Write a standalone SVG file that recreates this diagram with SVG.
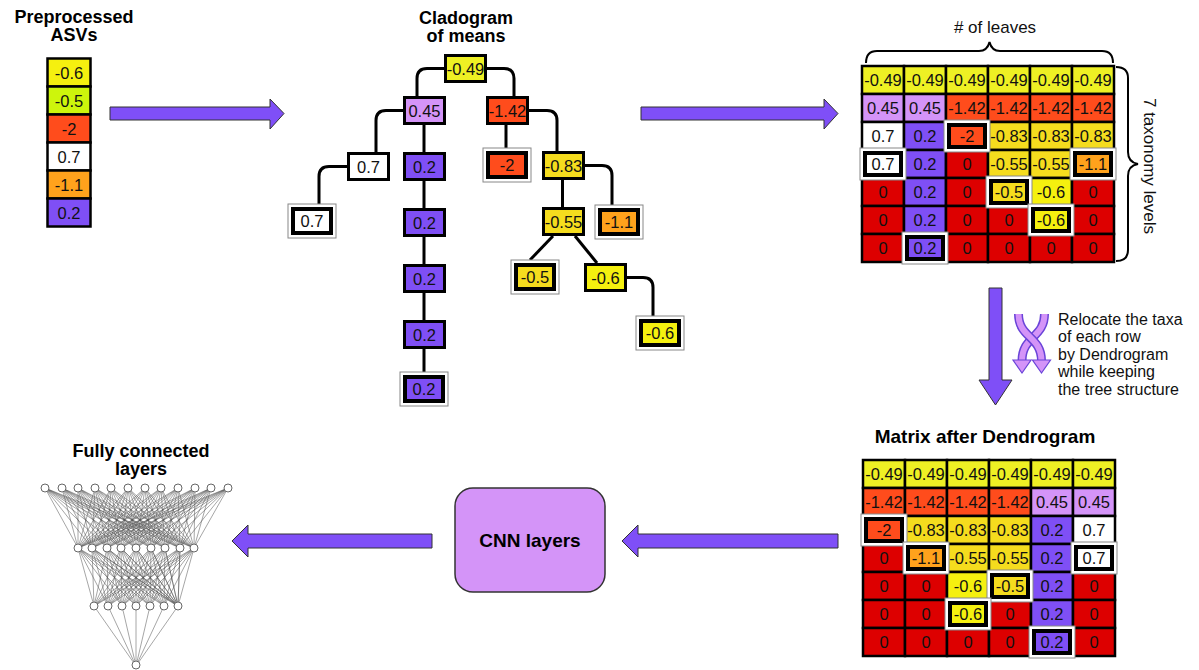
<svg xmlns="http://www.w3.org/2000/svg" width="1199" height="670" viewBox="0 0 1199 670">
<defs>
<style>
text{font-family:"Liberation Sans",Arial,Helvetica,sans-serif;fill:#111}
.v{font-size:16.5px;text-anchor:middle}
.h{font-size:19px;font-weight:bold;text-anchor:middle;fill:#000}
.h2{font-size:18px;font-weight:bold;text-anchor:middle;fill:#000}
.s{font-size:17px}
.t{font-size:16px}
.n{stroke:#000;stroke-width:3}
.c{stroke:#000;stroke-width:2.5}
.lo{fill:#fff;stroke:#888;stroke-width:1}
.li{stroke:#000;stroke-width:4}
.y{fill:#eef024}
.g{fill:#f5dc1e}
.yl{fill:#f5f00f}
.lm{fill:#cdf50c}
.o{fill:#ff4c1c}
.r{fill:#dd0000}
.p{fill:#7f4ff5}
.l{fill:#d494f8}
.a{fill:#ffa21c}
.w{fill:#fff}
.arrow{fill:#7f4ff7;stroke:#333;stroke-width:1}
.con{fill:none;stroke:#000;stroke-width:3}
.br{fill:none;stroke:#000;stroke-width:2}
.nn{fill:none;stroke:#555;stroke-width:0.7;stroke-opacity:0.75;stroke-linejoin:round}
.nd{fill:#fff;stroke:#666;stroke-width:1}
</style>
</defs>
<rect width="1199" height="670" fill="#fff"/>

<!-- Preprocessed ASVs -->
<g id="asvs">
<text class="h2" x="74" y="23">Preprocessed</text>
<text class="h2" x="74" y="41">ASVs</text>
<rect class="c yl" x="47.5" y="58.5" width="43" height="28"/>
<rect class="c lm" x="47.5" y="86.5" width="43" height="28"/>
<rect class="c o" x="47.5" y="114.5" width="43" height="28"/>
<rect class="c w" x="47.5" y="142.5" width="43" height="28"/>
<rect class="c a" x="47.5" y="170.5" width="43" height="28"/>
<rect class="c p" x="47.5" y="198.5" width="43" height="28"/>
<text class="v" x="69" y="78.5">-0.6</text>
<text class="v" x="69" y="106.5">-0.5</text>
<text class="v" x="69" y="134.5">-2</text>
<text class="v" x="69" y="162.5">0.7</text>
<text class="v" x="69" y="190.5">-1.1</text>
<text class="v" x="69" y="218.5">0.2</text>
</g>

<!-- Arrows between panels -->
<g id="arrows">
<polygon class="arrow" points="110,107 270,107 270,99 284,113.5 270,129 270,120 110,120"/>
<polygon class="arrow" points="641,107 824,107 824,99 838,113.5 824,129 824,120 641,120"/>
<polygon class="arrow" points="989,288 1002,288 1002,380 1012,380 995.5,405 979,380 989,380"/>
<polygon class="arrow" points="838,534 638,534 638,525 622,541 638,557 638,548 838,548"/>
<polygon class="arrow" points="432,534 248,534 248,525 232,541 248,557 248,548 432,548"/>
</g>

<!-- Cladogram -->
<g id="cladogram-title">
<text class="h2" x="466" y="24">Cladogram</text>
<text class="h2" x="466" y="42">of means</text>
</g>
<g id="connectors" class="con">
<path d="M444 68.5H427Q417 68.5 417 78.5V96"/>
<path d="M487 68.5H504Q514 68.5 514 78.5V96"/>
<path d="M403 110.5H386Q376 110.5 376 120.5V152"/>
<path d="M424 125V152"/>
<path d="M347 166.5H329Q319 166.5 319 176.5V204"/>
<path d="M424 181V208M424 237V264M424 293V320M424 349V372"/>
<path d="M506 125V148"/>
<path d="M529 110.5H547Q557 110.5 557 120.5V151"/>
<path d="M562.5 180V207"/>
<path d="M585 165.5H602Q612 165.5 612 175.5V205"/>
<path d="M553 236L530 260"/>
<path d="M575 236L597 263"/>
<path d="M627 277.5H643Q653 277.5 653 287.5V316"/>
</g>
<g id="n-049"><rect class="n y" x="445.5" y="55.5" width="40" height="26"/><text class="v" x="465.5" y="74.5">-0.49</text></g>
<g id="n-045"><rect class="n l" x="404.5" y="97.5" width="40" height="26"/><text class="v" x="424.5" y="116.5">0.45</text></g>
<g id="n-142"><rect class="n o" x="487.5" y="97.5" width="40" height="26"/><text class="v" x="507.5" y="116.5">-1.42</text></g>
<g id="n-07"><rect class="n w" x="348.5" y="153.5" width="40" height="26"/><text class="v" x="368.5" y="172.5">0.7</text></g>
<g id="n-02a"><rect class="n p" x="404.5" y="153.5" width="40" height="26"/><text class="v" x="424.5" y="172.5">0.2</text></g>
<g id="n-02b"><rect class="n p" x="404.5" y="209.5" width="40" height="26"/><text class="v" x="424.5" y="228.5">0.2</text></g>
<g id="n-02c"><rect class="n p" x="404.5" y="265.5" width="40" height="26"/><text class="v" x="424.5" y="284.5">0.2</text></g>
<g id="n-02d"><rect class="n p" x="404.5" y="321.5" width="40" height="26"/><text class="v" x="424.5" y="340.5">0.2</text></g>
<g id="n-083"><rect class="n g" x="543.5" y="152.5" width="40" height="26"/><text class="v" x="563.5" y="171.5">-0.83</text></g>
<g id="n-055"><rect class="n g" x="543.5" y="208.5" width="40" height="26"/><text class="v" x="563.5" y="227.5">-0.55</text></g>
<g id="n-06"><rect class="n yl" x="585.5" y="264.5" width="40" height="26"/><text class="v" x="605.5" y="283.5">-0.6</text></g>
<g id="leaf-07"><rect class="lo" x="288" y="204" width="48" height="34"/><rect class="li w" x="293" y="209" width="38" height="24"/><text class="v" x="312" y="227">0.7</text></g>
<g id="leaf-02"><rect class="lo" x="400" y="372" width="48" height="34"/><rect class="li p" x="405" y="377" width="38" height="24"/><text class="v" x="424" y="395">0.2</text></g>
<g id="leaf-2"><rect class="lo" x="483" y="148" width="48" height="34"/><rect class="li o" x="488" y="153" width="38" height="24"/><text class="v" x="507" y="171">-2</text></g>
<g id="leaf-11"><rect class="lo" x="595" y="205" width="48" height="34"/><rect class="li a" x="600" y="210" width="38" height="24"/><text class="v" x="619" y="228">-1.1</text></g>
<g id="leaf-05"><rect class="lo" x="511" y="260" width="48" height="34"/><rect class="li g" x="516" y="265" width="38" height="24"/><text class="v" x="535" y="283">-0.5</text></g>
<g id="leaf-06"><rect class="lo" x="636" y="316" width="48" height="34"/><rect class="li yl" x="641" y="321" width="38" height="24"/><text class="v" x="660" y="339">-0.6</text></g>

<!-- Top matrix -->
<g id="matrix-top">
<text class="v s" x="995" y="33">&#35; of leaves</text>
<path class="br" d="M866 63C866 55 869 51 877 51H979C985 51 988 48 989.5 42C991 48 994 51 1000 51H1102C1110 51 1113 55 1113 63"/>
<path class="br" d="M1116 67C1124 67 1128 70 1128 78V152C1128 160 1132 163 1138 164C1132 165 1128 168 1128 176V250C1128 258 1124 261 1116 261"/>
<text class="v s" transform="translate(1144,166) rotate(90)" x="0" y="0">7 taxonomy levels</text>
<g class="c">
<rect class="y" x="862" y="66" width="42" height="28"/><rect class="y" x="904" y="66" width="42" height="28"/><rect class="y" x="946" y="66" width="42" height="28"/><rect class="y" x="988" y="66" width="42" height="28"/><rect class="y" x="1030" y="66" width="42" height="28"/><rect class="y" x="1072" y="66" width="42" height="28"/>
<rect class="l" x="862" y="94" width="42" height="28"/><rect class="l" x="904" y="94" width="42" height="28"/><rect class="o" x="946" y="94" width="42" height="28"/><rect class="o" x="988" y="94" width="42" height="28"/><rect class="o" x="1030" y="94" width="42" height="28"/><rect class="o" x="1072" y="94" width="42" height="28"/>
<rect class="w" x="862" y="122" width="42" height="28"/><rect class="p" x="904" y="122" width="42" height="28"/><rect class="o" x="946" y="122" width="42" height="28"/><rect class="g" x="988" y="122" width="42" height="28"/><rect class="g" x="1030" y="122" width="42" height="28"/><rect class="g" x="1072" y="122" width="42" height="28"/>
<rect class="w" x="862" y="150" width="42" height="28"/><rect class="p" x="904" y="150" width="42" height="28"/><rect class="r" x="946" y="150" width="42" height="28"/><rect class="g" x="988" y="150" width="42" height="28"/><rect class="g" x="1030" y="150" width="42" height="28"/><rect class="a" x="1072" y="150" width="42" height="28"/>
<rect class="r" x="862" y="178" width="42" height="28"/><rect class="p" x="904" y="178" width="42" height="28"/><rect class="r" x="946" y="178" width="42" height="28"/><rect class="g" x="988" y="178" width="42" height="28"/><rect class="yl" x="1030" y="178" width="42" height="28"/><rect class="r" x="1072" y="178" width="42" height="28"/>
<rect class="r" x="862" y="206" width="42" height="28"/><rect class="p" x="904" y="206" width="42" height="28"/><rect class="r" x="946" y="206" width="42" height="28"/><rect class="r" x="988" y="206" width="42" height="28"/><rect class="yl" x="1030" y="206" width="42" height="28"/><rect class="r" x="1072" y="206" width="42" height="28"/>
<rect class="r" x="862" y="234" width="42" height="28"/><rect class="p" x="904" y="234" width="42" height="28"/><rect class="r" x="946" y="234" width="42" height="28"/><rect class="r" x="988" y="234" width="42" height="28"/><rect class="r" x="1030" y="234" width="42" height="28"/><rect class="r" x="1072" y="234" width="42" height="28"/>
</g>
<g class="v">
<text x="883" y="86">-0.49</text><text x="925" y="86">-0.49</text><text x="967" y="86">-0.49</text><text x="1009" y="86">-0.49</text><text x="1051" y="86">-0.49</text><text x="1093" y="86">-0.49</text>
<text x="883" y="114">0.45</text><text x="925" y="114">0.45</text><text x="967" y="114">-1.42</text><text x="1009" y="114">-1.42</text><text x="1051" y="114">-1.42</text><text x="1093" y="114">-1.42</text>
<text x="883" y="142">0.7</text><text x="925" y="142">0.2</text><text x="1009" y="142">-0.83</text><text x="1051" y="142">-0.83</text><text x="1093" y="142">-0.83</text>
<text x="925" y="170">0.2</text><text x="967" y="170">0</text><text x="1009" y="170">-0.55</text><text x="1051" y="170">-0.55</text>
<text x="883" y="198">0</text><text x="925" y="198">0.2</text><text x="967" y="198">0</text><text x="1051" y="198">-0.6</text><text x="1093" y="198">0</text>
<text x="883" y="226">0</text><text x="925" y="226">0.2</text><text x="967" y="226">0</text><text x="1009" y="226">0</text><text x="1093" y="226">0</text>
<text x="883" y="254">0</text><text x="967" y="254">0</text><text x="1009" y="254">0</text><text x="1051" y="254">0</text><text x="1093" y="254">0</text>
</g>
<g id="hl-top">
<rect class="lo" x="944" y="120" width="46" height="32"/><rect class="li o" x="949" y="125" width="36" height="22"/><text class="v" x="967" y="142">-2</text>
<rect class="lo" x="860" y="148" width="46" height="32"/><rect class="li w" x="865" y="153" width="36" height="22"/><text class="v" x="883" y="170">0.7</text>
<rect class="lo" x="1070" y="148" width="46" height="32"/><rect class="li a" x="1075" y="153" width="36" height="22"/><text class="v" x="1093" y="170">-1.1</text>
<rect class="lo" x="986" y="176" width="46" height="32"/><rect class="li g" x="991" y="181" width="36" height="22"/><text class="v" x="1009" y="198">-0.5</text>
<rect class="lo" x="1028" y="204" width="46" height="32"/><rect class="li yl" x="1033" y="209" width="36" height="22"/><text class="v" x="1051" y="226">-0.6</text>
<rect class="lo" x="902" y="232" width="46" height="32"/><rect class="li p" x="907" y="237" width="36" height="22"/><text class="v" x="925" y="254">0.2</text>
</g>
</g>

<!-- Relocate annotation -->
<g id="relocate">
<path d="M1044.5 314C1044.5 338 1022 336 1022 361" fill="none" stroke="#6a44d8" stroke-width="9"/>
<path d="M1044.5 314C1044.5 338 1022 336 1022 361" fill="none" stroke="#d494f8" stroke-width="6"/>
<polygon points="1013,360 1031,360 1022,373" fill="#d494f8" stroke="#6a44d8" stroke-width="1.2"/>
<path d="M1018.5 314C1018.5 338 1041.5 336 1041.5 361" fill="none" stroke="#6a44d8" stroke-width="9"/>
<path d="M1018.5 314C1018.5 338 1041.5 336 1041.5 361" fill="none" stroke="#d494f8" stroke-width="6"/>
<polygon points="1032.5,360 1050.5,360 1041.5,373" fill="#d494f8" stroke="#6a44d8" stroke-width="1.2"/>
<g class="t">
<text x="1058" y="324.5">Relocate the taxa</text>
<text x="1058" y="342">of each row</text>
<text x="1058" y="359.5">by Dendrogram</text>
<text x="1058" y="377">while keeping</text>
<text x="1058" y="394.5">the tree structure</text>
</g>
</g>

<!-- Bottom matrix -->
<g id="matrix-bottom">
<text class="h" x="985" y="443">Matrix after Dendrogram</text>
<g class="c">
<rect class="y" x="863" y="460" width="42" height="28"/><rect class="y" x="905" y="460" width="42" height="28"/><rect class="y" x="947" y="460" width="42" height="28"/><rect class="y" x="989" y="460" width="42" height="28"/><rect class="y" x="1031" y="460" width="42" height="28"/><rect class="y" x="1073" y="460" width="42" height="28"/>
<rect class="o" x="863" y="488" width="42" height="28"/><rect class="o" x="905" y="488" width="42" height="28"/><rect class="o" x="947" y="488" width="42" height="28"/><rect class="o" x="989" y="488" width="42" height="28"/><rect class="l" x="1031" y="488" width="42" height="28"/><rect class="l" x="1073" y="488" width="42" height="28"/>
<rect class="o" x="863" y="516" width="42" height="28"/><rect class="g" x="905" y="516" width="42" height="28"/><rect class="g" x="947" y="516" width="42" height="28"/><rect class="g" x="989" y="516" width="42" height="28"/><rect class="p" x="1031" y="516" width="42" height="28"/><rect class="w" x="1073" y="516" width="42" height="28"/>
<rect class="r" x="863" y="544" width="42" height="28"/><rect class="a" x="905" y="544" width="42" height="28"/><rect class="g" x="947" y="544" width="42" height="28"/><rect class="g" x="989" y="544" width="42" height="28"/><rect class="p" x="1031" y="544" width="42" height="28"/><rect class="w" x="1073" y="544" width="42" height="28"/>
<rect class="r" x="863" y="572" width="42" height="28"/><rect class="r" x="905" y="572" width="42" height="28"/><rect class="yl" x="947" y="572" width="42" height="28"/><rect class="g" x="989" y="572" width="42" height="28"/><rect class="p" x="1031" y="572" width="42" height="28"/><rect class="r" x="1073" y="572" width="42" height="28"/>
<rect class="r" x="863" y="600" width="42" height="28"/><rect class="r" x="905" y="600" width="42" height="28"/><rect class="yl" x="947" y="600" width="42" height="28"/><rect class="r" x="989" y="600" width="42" height="28"/><rect class="p" x="1031" y="600" width="42" height="28"/><rect class="r" x="1073" y="600" width="42" height="28"/>
<rect class="r" x="863" y="628" width="42" height="28"/><rect class="r" x="905" y="628" width="42" height="28"/><rect class="r" x="947" y="628" width="42" height="28"/><rect class="r" x="989" y="628" width="42" height="28"/><rect class="p" x="1031" y="628" width="42" height="28"/><rect class="r" x="1073" y="628" width="42" height="28"/>
</g>
<g class="v">
<text x="884" y="480">-0.49</text><text x="926" y="480">-0.49</text><text x="968" y="480">-0.49</text><text x="1010" y="480">-0.49</text><text x="1052" y="480">-0.49</text><text x="1094" y="480">-0.49</text>
<text x="884" y="508">-1.42</text><text x="926" y="508">-1.42</text><text x="968" y="508">-1.42</text><text x="1010" y="508">-1.42</text><text x="1052" y="508">0.45</text><text x="1094" y="508">0.45</text>
<text x="926" y="536">-0.83</text><text x="968" y="536">-0.83</text><text x="1010" y="536">-0.83</text><text x="1052" y="536">0.2</text><text x="1094" y="536">0.7</text>
<text x="884" y="564">0</text><text x="968" y="564">-0.55</text><text x="1010" y="564">-0.55</text><text x="1052" y="564">0.2</text>
<text x="884" y="592">0</text><text x="926" y="592">0</text><text x="968" y="592">-0.6</text><text x="1052" y="592">0.2</text><text x="1094" y="592">0</text>
<text x="884" y="620">0</text><text x="926" y="620">0</text><text x="1010" y="620">0</text><text x="1052" y="620">0.2</text><text x="1094" y="620">0</text>
<text x="884" y="648">0</text><text x="926" y="648">0</text><text x="968" y="648">0</text><text x="1010" y="648">0</text><text x="1094" y="648">0</text>
</g>
<g id="hl-bottom">
<rect class="lo" x="861" y="514" width="46" height="32"/><rect class="li o" x="866" y="519" width="36" height="22"/><text class="v" x="884" y="536">-2</text>
<rect class="lo" x="903" y="542" width="46" height="32"/><rect class="li a" x="908" y="547" width="36" height="22"/><text class="v" x="926" y="564">-1.1</text>
<rect class="lo" x="1071" y="542" width="46" height="32"/><rect class="li w" x="1076" y="547" width="36" height="22"/><text class="v" x="1094" y="564">0.7</text>
<rect class="lo" x="987" y="570" width="46" height="32"/><rect class="li g" x="992" y="575" width="36" height="22"/><text class="v" x="1010" y="592">-0.5</text>
<rect class="lo" x="945" y="598" width="46" height="32"/><rect class="li yl" x="950" y="603" width="36" height="22"/><text class="v" x="968" y="620">-0.6</text>
<rect class="lo" x="1029" y="626" width="46" height="32"/><rect class="li p" x="1034" y="631" width="36" height="22"/><text class="v" x="1052" y="648">0.2</text>
</g>
</g>

<!-- CNN layers -->
<g id="cnn">
<rect x="455" y="488" width="150" height="104" rx="18" fill="#d494f8" stroke="#333" stroke-width="1.5"/>
<text class="h" x="530" y="547">CNN layers</text>
</g>

<!-- Fully connected layers -->
<g id="fc">
<text class="h2" x="141" y="457">Fully connected</text>
<text class="h2" x="141" y="475">layers</text>
<path class="nn" d="M45 488L78 548 62 488 92 548 45 488 107 548 62 488 121 548 45 488 136 548 62 488 151 548 45 488 165 548 62 488 180 548 45 488 194 548 62 488
M78 488L78 548 95 488 92 548 78 488 107 548 95 488 121 548 78 488 136 548 95 488 151 548 78 488 165 548 95 488 180 548 78 488 194 548 95 488
M111 488L78 548 128 488 92 548 111 488 107 548 128 488 121 548 111 488 136 548 128 488 151 548 111 488 165 548 128 488 180 548 111 488 194 548 128 488
M145 488L78 548 161 488 92 548 145 488 107 548 161 488 121 548 145 488 136 548 161 488 151 548 145 488 165 548 161 488 180 548 145 488 194 548 161 488
M178 488L78 548 195 488 92 548 178 488 107 548 195 488 121 548 178 488 136 548 195 488 151 548 178 488 165 548 195 488 180 548 178 488 194 548 195 488
M211 488L78 548 228 488 92 548 211 488 107 548 228 488 121 548 211 488 136 548 228 488 151 548 211 488 165 548 228 488 180 548 211 488 194 548 228 488
M94 606L78 548 108 606 92 548 94 606 107 548 108 606 121 548 94 606 136 548 108 606 151 548 94 606 165 548 108 606 180 548 94 606 194 548 108 606
M122 606L78 548 136 606 92 548 122 606 107 548 136 606 121 548 122 606 136 548 136 606 151 548 122 606 165 548 136 606 180 548 122 606 194 548 136 606
M150 606L78 548 164 606 92 548 150 606 107 548 164 606 121 548 150 606 136 548 164 606 151 548 150 606 165 548 164 606 180 548 150 606 194 548 164 606
M78 548L178 606 92 548 178 606 107 548 178 606 121 548 178 606 136 548 178 606 151 548 178 606 165 548 178 606 180 548 178 606 194 548
M94 606L136 666M108 606L136 666M122 606L136 666M136 606L136 666M150 606L136 666M164 606L136 666M178 606L136 666"/>
<g class="nd">
<circle cx="45" cy="488" r="4"/><circle cx="62" cy="488" r="4"/><circle cx="78" cy="488" r="4"/><circle cx="95" cy="488" r="4"/><circle cx="111" cy="488" r="4"/><circle cx="128" cy="488" r="4"/><circle cx="145" cy="488" r="4"/><circle cx="161" cy="488" r="4"/><circle cx="178" cy="488" r="4"/><circle cx="195" cy="488" r="4"/><circle cx="211" cy="488" r="4"/><circle cx="228" cy="488" r="4"/>
<circle cx="78" cy="548" r="4"/><circle cx="92" cy="548" r="4"/><circle cx="107" cy="548" r="4"/><circle cx="121" cy="548" r="4"/><circle cx="136" cy="548" r="4"/><circle cx="151" cy="548" r="4"/><circle cx="165" cy="548" r="4"/><circle cx="180" cy="548" r="4"/><circle cx="194" cy="548" r="4"/>
<circle cx="94" cy="606" r="4"/><circle cx="108" cy="606" r="4"/><circle cx="122" cy="606" r="4"/><circle cx="136" cy="606" r="4"/><circle cx="150" cy="606" r="4"/><circle cx="164" cy="606" r="4"/><circle cx="178" cy="606" r="4"/>
<circle cx="136" cy="665" r="4"/>
</g>
</g>
</svg>
